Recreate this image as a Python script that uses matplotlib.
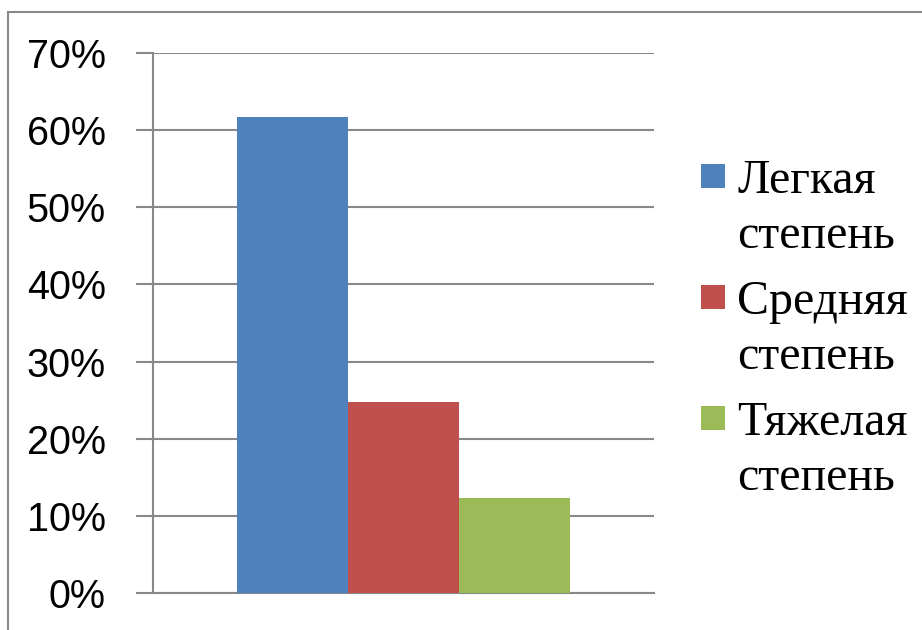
import matplotlib
matplotlib.use("Agg")
import matplotlib.pyplot as plt
from matplotlib.patches import Rectangle
from matplotlib.ticker import PercentFormatter

series_names = [["Легкая", "степень"], ["Средняя", "степень"], ["Тяжелая", "степень"]]
values = [61.7, 24.7, 12.3]
colors = ["#4F81BD", "#C0504D", "#9BBB59"]
yticks = [0, 10, 20, 30, 40, 50, 60, 70]

W, H = 922, 630
fig = plt.figure(figsize=(W / 100, H / 100), dpi=100)
fig.patch.set_facecolor("white")

def fx(px):
    return px / W

def fy(py):
    return 1 - py / H

# outer chart frame
fig.patches.append(Rectangle((fx(8), fy(640)), fx(940) - fx(8), fy(12) - fy(640),
                             transform=fig.transFigure, fill=False,
                             edgecolor="#888888", linewidth=1.5))

ax = fig.add_axes([fx(153), fy(593), fx(654) - fx(153), fy(53) - fy(593)])
bw = 1 / 4.5
offsets = [-bw, 0, bw]
for off, v, c in zip(offsets, values, colors):
    ax.bar(off, v, width=bw, color=c, edgecolor="none", zorder=3)

ax.set_xlim(-0.5, 0.5)
ax.set_ylim(0, 70)
ax.set_yticks(yticks)
ax.yaxis.set_major_formatter(PercentFormatter(decimals=0))
ax.set_xticks([])
ax.grid(axis="y", color="#888888", linewidth=1.5, zorder=0)
for s in ["top", "right"]:
    ax.spines[s].set_visible(False)
for s in ["left", "bottom"]:
    ax.spines[s].set_color("#888888")
    ax.spines[s].set_linewidth(1.5)
ax.tick_params(axis="y", length=12, width=1.5, color="#888888", pad=22,
               labelsize=28.5, labelcolor="black")
for lab in ax.get_yticklabels():
    lab.set_family("Liberation Sans")

# legend
tops = [164, 285, 406]
for (l1, l2), c, t in zip(series_names, colors, tops):
    fig.patches.append(Rectangle((fx(701), fy(t + 24)), fx(725) - fx(701), fy(t) - fy(t + 24),
                                 transform=fig.transFigure, facecolor=c, edgecolor="none"))
    b1 = t + 29
    fig.text(fx(737), fy(b1), l1, family="Liberation Serif", fontsize=34.5,
             va="baseline", ha="left")
    fig.text(fx(737), fy(b1 + 55), l2, family="Liberation Serif", fontsize=34.5,
             va="baseline", ha="left")

fig.savefig("out.png", dpi=100, facecolor="white")
